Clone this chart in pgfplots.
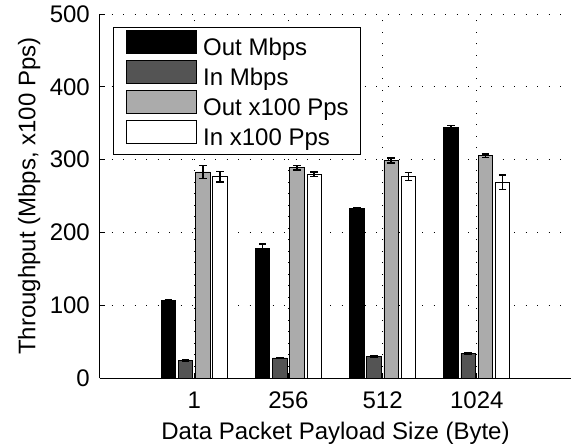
\documentclass[border=0pt]{standalone}
\usepackage{fontspec}
\setmainfont{Liberation Sans}
\usepackage{pgfplots}
\usepackage{pgfplotstable}
\pgfplotsset{compat=1.18}

\definecolor{bardark}{gray}{0.33}
\definecolor{barlight}{gray}{0.67}

% throughput per payload size: mean and error half-width of each series
\pgfplotstableread{
x  out    outerr  in    inerr  outpps  outppserr  inpps  inppserr
1  106.5  1.0     24.5  1.0    283.0   9.0        276.5  7.5
2  178.5  5.5     27.5  1.0    289.0   3.0        280.0  3.0
3  233.0  1.5     29.8  1.0    298.5   3.5        277.0  5.5
4  343.5  3.5     33.8  1.0    305.3   2.5        268.8  10.0
}\datatable

\pgfplotsset{
  % wide flat patch; its own extent does not size the legend row
  patchlegend/.style={
    /pgfplots/legend image code/.code={%
      \begin{pgfinterruptboundingbox}
        \draw[##1] (0pt,-7.7pt) rectangle (70pt,15.3pt);
      \end{pgfinterruptboundingbox}
      \path (0pt,0pt) (70pt,0pt);}},
  errstyle/.style={
    error bars/.cd, y dir=both, y explicit,
    error bar style={black, line width=1.5pt},
    error mark options={rotate=90, mark size=3.8pt, black, line width=1.5pt}},
}

\begin{document}
\begin{tikzpicture}[font=\fontsize{24}{29}\selectfont]
\begin{axis}[
  ybar, bar width=14.5pt,
  scale only axis, width=471pt, height=364pt,
  xmin=0, xmax=5, ymin=0, ymax=500,
  xtick={1,2,3,4}, xticklabels={1,256,512,1024},
  ytick={0,100,...,500},
  axis x line*=bottom, axis y line*=left,
  axis line style={-, line width=1pt},
  tick align=inside, major tick length=5pt,
  tick style={black, line width=1pt},
  grid=major,
  major grid style={black, line width=1pt, dash pattern=on 1pt off 10.5pt},
  /pgf/number format/assume math mode=true,
  xticklabel style={anchor=base, yshift=-30pt, inner sep=0pt},
  yticklabel style={anchor=east, inner sep=0pt, xshift=-10pt},
  xlabel={Data Packet Payload Size (Byte)},
  xlabel style={at={(axis description cs:0.5,-0.170)}, anchor=base},
  ylabel={Throughput (Mbps, x100 Pps)},
  ylabel style={at={(axis description cs:-0.137,0.5)}, anchor=base},
  legend cell align=left,
  legend style={at={(axis description cs:0.0283,0.965)}, anchor=north west,
    draw=black, line width=1pt, fill=white,
    inner xsep=12pt, inner ysep=7pt,
    column sep=6.5pt, row sep=7pt,
    nodes={inner sep=0pt, text height=21.3pt, text depth=1.7pt}},
]
\addplot[fill=black, draw=black, line width=0.9pt, bar shift=-25.8pt,
  patchlegend, errstyle]
  table[x=x, y=out, y error=outerr] {\datatable};
\addlegendentry{Out Mbps}
\addplot[fill=bardark, draw=black, line width=0.9pt, bar shift=-8.6pt,
  patchlegend, errstyle]
  table[x=x, y=in, y error=inerr] {\datatable};
\addlegendentry{In Mbps}
\addplot[fill=barlight, draw=black, line width=0.9pt, bar shift=8.6pt,
  patchlegend, errstyle]
  table[x=x, y=outpps, y error=outppserr] {\datatable};
\addlegendentry{Out x100 Pps}
\addplot[fill=white, draw=black, line width=0.9pt, bar shift=25.8pt,
  patchlegend, errstyle]
  table[x=x, y=inpps, y error=inppserr] {\datatable};
\addlegendentry{In x100 Pps}
\end{axis}
\pgfresetboundingbox
\useasboundingbox ([xshift=-100pt,yshift=-67pt]current axis.south west)
  rectangle ([yshift=14pt]current axis.north east);
\end{tikzpicture}
\end{document}
